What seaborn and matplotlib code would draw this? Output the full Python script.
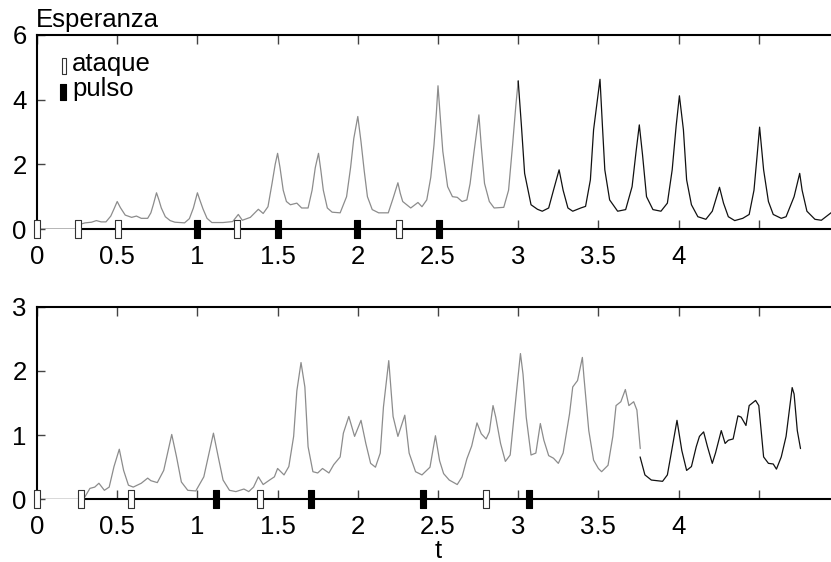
import numpy as np
import pandas as pd
import matplotlib
matplotlib.use("Agg")
import matplotlib.pyplot as plt
from matplotlib.path import Path
import seaborn as sns

# ---- data -------------------------------------------------------------
# upper panel: expectation curve (grey part, then black part)
top_gray_t = [0.00, 0.25, 0.265, 0.30, 0.34, 0.37, 0.40, 0.43, 0.46, 0.48, 0.50, 0.52,
              0.55, 0.59, 0.62, 0.65, 0.69, 0.71, 0.725, 0.745, 0.76, 0.775, 0.80,
              0.83, 0.86, 0.92, 0.95, 0.975, 1.00, 1.015, 1.035, 1.06, 1.09, 1.16,
              1.22, 1.255, 1.28, 1.33, 1.38, 1.41, 1.44, 1.465, 1.485, 1.50, 1.515,
              1.535, 1.555, 1.58, 1.62, 1.65, 1.69, 1.715, 1.735, 1.755, 1.77, 1.785,
              1.81, 1.84, 1.89, 1.93, 1.955, 1.975, 2.00, 2.02, 2.04, 2.06, 2.09,
              2.13, 2.19, 2.22, 2.25, 2.265, 2.28, 2.33, 2.375, 2.40, 2.43, 2.455,
              2.475, 2.49, 2.50, 2.515, 2.53, 2.56, 2.59, 2.62, 2.65, 2.68, 2.70,
              2.725, 2.755, 2.77, 2.79, 2.82, 2.85, 2.91, 2.94, 2.965, 2.985, 3.00]
top_gray_v = [0.00, 0.00, 0.14, 0.19, 0.21, 0.26, 0.22, 0.22, 0.40, 0.62, 0.85, 0.66,
              0.43, 0.36, 0.40, 0.33, 0.33, 0.50, 0.75, 1.12, 0.90, 0.65, 0.38,
              0.26, 0.21, 0.19, 0.32, 0.65, 1.12, 0.90, 0.62, 0.33, 0.20, 0.20,
              0.23, 0.45, 0.27, 0.36, 0.61, 0.48, 0.69, 1.40, 2.00, 2.34, 1.90,
              1.20, 0.85, 0.75, 0.80, 0.65, 0.65, 1.20, 1.90, 2.34, 1.80, 1.20,
              0.65, 0.52, 0.50, 1.00, 1.90, 2.80, 3.48, 2.70, 1.80, 1.00, 0.60,
              0.50, 0.50, 0.95, 1.43, 1.10, 0.85, 0.65, 0.82, 0.69, 0.90, 1.60,
              2.60, 3.60, 4.43, 3.40, 2.40, 1.31, 1.00, 0.98, 0.85, 0.90, 1.40,
              2.40, 3.53, 2.55, 1.41, 0.85, 0.65, 0.67, 1.20, 2.60, 3.80, 4.58]
top_black_t = [3.00, 3.02, 3.04, 3.08, 3.12, 3.15, 3.19, 3.22, 3.255, 3.28, 3.31, 3.34,
               3.39, 3.42, 3.45, 3.47, 3.51, 3.525, 3.54, 3.57, 3.62, 3.67, 3.71,
               3.735, 3.755, 3.775, 3.80, 3.84, 3.89, 3.93, 3.96, 3.985, 4.005, 4.03,
               4.05, 4.08, 4.12, 4.17, 4.21, 4.255, 4.28, 4.31, 4.35, 4.40, 4.44,
               4.47, 4.49, 4.505, 4.53, 4.56, 4.59, 4.64, 4.67, 4.72, 4.755, 4.77,
               4.80, 4.85, 4.89, 4.95, 4.98]
top_black_v = [4.58, 3.20, 1.72, 0.75, 0.61, 0.55, 0.65, 1.20, 1.83, 1.20, 0.65, 0.55,
               0.65, 0.70, 1.52, 3.07, 4.63, 3.20, 1.83, 0.90, 0.55, 0.60, 1.31,
               2.40, 3.22, 2.30, 1.00, 0.60, 0.55, 0.80, 1.83, 3.20, 4.12, 3.07,
               1.52, 0.75, 0.38, 0.30, 0.55, 1.29, 0.80, 0.38, 0.26, 0.33, 0.45,
               1.20, 2.30, 3.15, 1.83, 0.85, 0.45, 0.33, 0.38, 1.00, 1.72, 1.20,
               0.55, 0.30, 0.27, 0.50, 0.62]
top_attack = [0.0, 0.257, 0.503, 1.248, 2.258]
top_pulse = [1.0, 1.5, 1.992, 2.505]

# lower panel
bot_gray_t = [0.00, 0.276, 0.299, 0.33, 0.36, 0.386, 0.42, 0.45, 0.48, 0.513, 0.54,
              0.57, 0.60, 0.65, 0.69, 0.71, 0.75, 0.79, 0.84, 0.87, 0.90, 0.94,
              0.99, 1.04, 1.10, 1.13, 1.16, 1.20, 1.24, 1.29, 1.32, 1.35, 1.38,
              1.41, 1.45, 1.48, 1.50, 1.54, 1.57, 1.60, 1.62, 1.646, 1.67, 1.69,
              1.72, 1.75, 1.78, 1.82, 1.85, 1.89, 1.91, 1.944, 1.98, 2.02, 2.05,
              2.08, 2.11, 2.14, 2.16, 2.193, 2.22, 2.25, 2.293, 2.32, 2.36, 2.40,
              2.45, 2.484, 2.51, 2.535, 2.57, 2.62, 2.65, 2.68, 2.71, 2.743, 2.77,
              2.80, 2.82, 2.843, 2.86, 2.89, 2.92, 2.95, 2.99, 3.014, 3.03, 3.05,
              3.08, 3.11, 3.138, 3.16, 3.19, 3.22, 3.25, 3.28, 3.32, 3.34, 3.37,
              3.40, 3.41, 3.44, 3.47, 3.50, 3.52, 3.56, 3.59, 3.61, 3.64, 3.668,
              3.69, 3.72, 3.74, 3.761]
bot_gray_v = [0.00, 0.00, 0.04, 0.17, 0.19, 0.25, 0.14, 0.19, 0.51, 0.78, 0.45,
              0.22, 0.19, 0.25, 0.33, 0.29, 0.26, 0.45, 1.01, 0.66, 0.27, 0.14,
              0.13, 0.35, 1.03, 0.66, 0.30, 0.14, 0.12, 0.16, 0.12, 0.19, 0.35,
              0.23, 0.30, 0.35, 0.48, 0.38, 0.51, 0.98, 1.69, 2.13, 1.75, 0.82,
              0.43, 0.41, 0.48, 0.41, 0.54, 0.66, 1.03, 1.29, 0.98, 1.23, 0.87,
              0.56, 0.50, 0.72, 1.44, 2.16, 1.29, 0.98, 1.31, 0.72, 0.43, 0.38,
              0.50, 0.99, 0.60, 0.40, 0.30, 0.23, 0.35, 0.63, 0.83, 1.19, 1.02,
              0.94, 1.05, 1.46, 1.28, 0.87, 0.59, 0.69, 1.69, 2.27, 1.95, 1.28,
              0.69, 0.72, 1.18, 0.92, 0.68, 0.64, 0.56, 0.72, 1.33, 1.75, 1.85,
              2.21, 1.90, 1.07, 0.61, 0.48, 0.43, 0.53, 0.98, 1.46, 1.52, 1.71,
              1.46, 1.52, 1.39, 0.79]
bot_black_t = [3.76, 3.79, 3.83, 3.90, 3.93, 3.95, 3.99, 4.02, 4.05, 4.08, 4.11,
               4.13, 4.156, 4.18, 4.21, 4.23, 4.266, 4.29, 4.31, 4.34, 4.37, 4.39,
               4.42, 4.44, 4.48, 4.50, 4.53, 4.56, 4.59, 4.61, 4.64, 4.67, 4.708,
               4.72, 4.74, 4.76]
bot_black_v = [0.66, 0.38, 0.30, 0.28, 0.38, 0.66, 1.23, 0.76, 0.45, 0.51, 0.82,
               0.98, 1.05, 0.82, 0.56, 0.72, 1.07, 0.87, 0.92, 0.94, 1.30, 1.28,
               1.15, 1.46, 1.54, 1.46, 0.66, 0.56, 0.55, 0.47, 0.66, 0.98, 1.74,
               1.64, 1.07, 0.79]
bot_attack = [0.0, 0.276, 0.583, 1.388, 2.802]
bot_pulse = [1.114, 1.711, 2.404, 3.068]

x_ticks = [0, 0.5, 1, 1.5, 2, 2.5, 3, 3.5, 4, 4.5]
x_tick_labels = ["0", "0.5", "1", "1.5", "2", "2.5", "3", "3.5", "4", ""]
top_y_ticks = [0, 2, 4, 6]
bot_y_ticks = [0, 1, 2, 3]

# ---- style ------------------------------------------------------------
sns.set_theme(style="white")
plt.rcParams["font.family"] = ["Liberation Sans", "DejaVu Sans"]
plt.rcParams["text.color"] = "black"
plt.rcParams["axes.labelcolor"] = "black"
FS = 18.5
GRAY = "#8c8c8c"
INK = "#111111"

# tall thin rectangle used as the event marker
RECT = Path([(-0.16, -0.5), (0.16, -0.5), (0.16, 0.5), (-0.16, 0.5), (-0.16, -0.5)],
            [Path.MOVETO, Path.LINETO, Path.LINETO, Path.LINETO, Path.CLOSEPOLY])

fig = plt.figure(figsize=(8.31, 5.62), dpi=100)
W, H = 831.0, 562.0
ax_top = fig.add_axes([37 / W, 1 - 229 / H, 802 / W, 194 / H])
ax_bot = fig.add_axes([37 / W, 1 - 499.3 / H, 802 / W, 192.6 / H])


def draw_panel(ax, gt, gv, bt, bv, attack, pulse, ymax, yticks):
    dg = pd.DataFrame({"t": gt, "v": gv})
    db = pd.DataFrame({"t": bt, "v": bv})
    sns.lineplot(data=dg, x="t", y="v", ax=ax, color=GRAY, linewidth=0.9,
                 estimator=None, sort=False, zorder=4)
    sns.lineplot(data=db, x="t", y="v", ax=ax, color=INK, linewidth=0.9,
                 estimator=None, sort=False, zorder=4)
    ax.plot(attack, np.zeros(len(attack)), ls="none", marker=RECT, ms=13.6,
            mfc="white", mec="#333333", mew=0.8, clip_on=False, zorder=6)
    ax.plot(pulse, np.zeros(len(pulse)), ls="none", marker=RECT, ms=13.2,
            mfc="black", mec="black", mew=0.8, clip_on=False, zorder=6)

    ax.set_xlim(0, 5)
    ax.set_ylim(0, ymax)
    ax.set_xticks(x_ticks)
    ax.set_xticklabels(x_tick_labels)
    ax.set_yticks(yticks)
    ax.set_yticklabels([str(v) for v in yticks])
    ax.set_xlabel("")
    ax.set_ylabel("")
    for side in ("left", "top", "bottom"):
        ax.spines[side].set_visible(True)
        ax.spines[side].set_color("black")
        ax.spines[side].set_linewidth(1.5)
    ax.spines["right"].set_visible(False)
    # the axis line starts at the first attack
    ax.spines["bottom"].set_bounds(attack[1], 5)
    ax.spines["bottom"].set_zorder(3)
    ax.tick_params(axis="x", which="both", direction="in", top=True, bottom=True,
                   length=6.5, width=1.0, color="#444444", pad=11.5,
                   labelsize=FS, labelcolor="black")
    ax.tick_params(axis="y", which="both", direction="in", left=True, right=False,
                   length=5.5, width=1.0, color="#444444", pad=7.5,
                   labelsize=FS, labelcolor="black")
    ax.set_facecolor("white")


draw_panel(ax_top, top_gray_t, top_gray_v, top_black_t, top_black_v,
           top_attack, top_pulse, 6, top_y_ticks)
draw_panel(ax_bot, bot_gray_t, bot_gray_v, bot_black_t, bot_black_v,
           bot_attack, bot_pulse, 3, bot_y_ticks)

ax_bot.set_xlabel("t", fontsize=FS, labelpad=0, color="black")

# title of the upper panel
fig.text(36 / W, 1 - 26.7 / H, "Esperanza", fontsize=FS, ha="left", va="baseline",
         color="black")

# key for the two kinds of event markers
ax_top.plot([0.0334], [0.841], transform=ax_top.transAxes, ls="none", marker=RECT,
            ms=11.0, mfc="white", mec="#333333", mew=0.8, clip_on=False)
ax_top.plot([0.0328], [0.708], transform=ax_top.transAxes, ls="none", marker=RECT,
            ms=12.0, mfc="black", mec="black", mew=0.8, clip_on=False)
ax_top.text(0.0436, 0.814, "ataque", transform=ax_top.transAxes, fontsize=FS,
            ha="left", va="baseline", color="black")
ax_top.text(0.0436, 0.687, "pulso", transform=ax_top.transAxes, fontsize=FS,
            ha="left", va="baseline", color="black")

fig.savefig("out.png", dpi=100, facecolor="white")
